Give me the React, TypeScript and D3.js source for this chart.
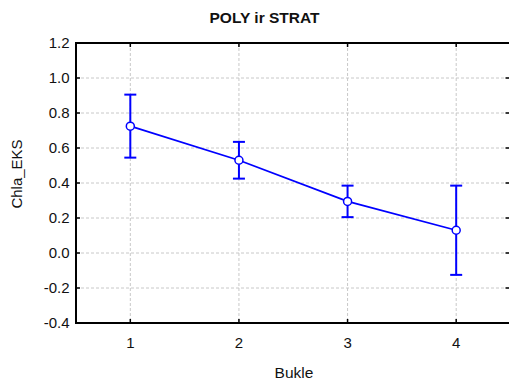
import React from "react";
import * as d3 from "d3";

const categories = [1, 2, 3, 4];
const means = [0.725, 0.53, 0.295, 0.13];
const upper = [0.905, 0.635, 0.385, 0.385];
const lower = [0.545, 0.425, 0.205, -0.125];
const yTicks = [-0.4, -0.2, 0.0, 0.2, 0.4, 0.6, 0.8, 1.0, 1.2];
const title = "POLY ir STRAT";
const xLabel = "Bukle";
const yLabel = "Chla_EKS";

const W = 509, H = 385;
const L = 76, T = 43, R = 510.5, B = 323;

export default function App() {
  const x = d3.scaleLinear().domain([0.5, 4.5]).range([L, R]);
  const y = d3.scaleLinear().domain([-0.4, 1.2]).range([B, T]);
  const line = d3.line<number>().x((_, i) => x(categories[i])).y((d) => y(d));
  const font = "Arial, 'Liberation Sans', sans-serif";
  const blue = "#0000ff";
  return (
    <svg width={W} height={H} style={{ position: "absolute", left: 0, top: 0, background: "#fff" }} fontFamily={font}>
      <rect x={0} y={0} width={W} height={H} fill="#fff" />
      <text x={264.5} y={22.5} textAnchor="middle" fontSize={15.5} fontWeight="bold" fill="#111">{title}</text>
      {yTicks.map((t) => (
        <line key={"gy" + t} x1={L} x2={R} y1={y(t)} y2={y(t)} stroke="#c8c8c8" strokeWidth={1} strokeDasharray="3,2" />
      ))}
      {categories.map((c) => (
        <line key={"gx" + c} x1={x(c)} x2={x(c)} y1={T} y2={B} stroke="#c8c8c8" strokeWidth={1} strokeDasharray="3,2" />
      ))}
      {yTicks.map((t) => (
        <g key={"ty" + t}>
          <line x1={L} x2={L + 4} y1={y(t)} y2={y(t)} stroke="#000" strokeWidth={1.5} />
          <line x1={R - 5} x2={R} y1={y(t)} y2={y(t)} stroke="#000" strokeWidth={1.5} />
          <text x={69.5} y={y(t)} dy="0.35em" textAnchor="end" fontSize={15} fill="#111">{d3.format(".1f")(t).replace("−", "-")}</text>
        </g>
      ))}
      {categories.map((c) => (
        <g key={"tx" + c}>
          <line x1={x(c)} x2={x(c)} y1={T} y2={T + 4} stroke="#000" strokeWidth={1.5} />
          <line x1={x(c)} x2={x(c)} y1={B} y2={B - 4} stroke="#000" strokeWidth={1.5} />
          <text x={x(c)} y={348} textAnchor="middle" fontSize={15} fill="#111">{c}</text>
        </g>
      ))}
      <rect x={L} y={T} width={R - L} height={B - T} fill="none" stroke="#000" strokeWidth={2} />
      <text x={294} y={378} textAnchor="middle" fontSize={15.5} fill="#111">{xLabel}</text>
      <text transform={`translate(22,174) rotate(-90)`} textAnchor="middle" fontSize={15} fill="#111">{yLabel}</text>
      {categories.map((c, i) => (
        <g key={"e" + c} stroke={blue} strokeWidth={2}>
          <line x1={x(c)} x2={x(c)} y1={y(upper[i])} y2={y(lower[i])} />
          <line x1={x(c) - 6} x2={x(c) + 6} y1={y(upper[i])} y2={y(upper[i])} />
          <line x1={x(c) - 6} x2={x(c) + 6} y1={y(lower[i])} y2={y(lower[i])} />
        </g>
      ))}
      <path d={line(means) || ""} fill="none" stroke={blue} strokeWidth={1.8} />
      {categories.map((c, i) => (
        <circle key={"p" + c} cx={x(c)} cy={y(means[i])} r={4} fill="#fff" stroke={blue} strokeWidth={1.5} />
      ))}
    </svg>
  );
}
